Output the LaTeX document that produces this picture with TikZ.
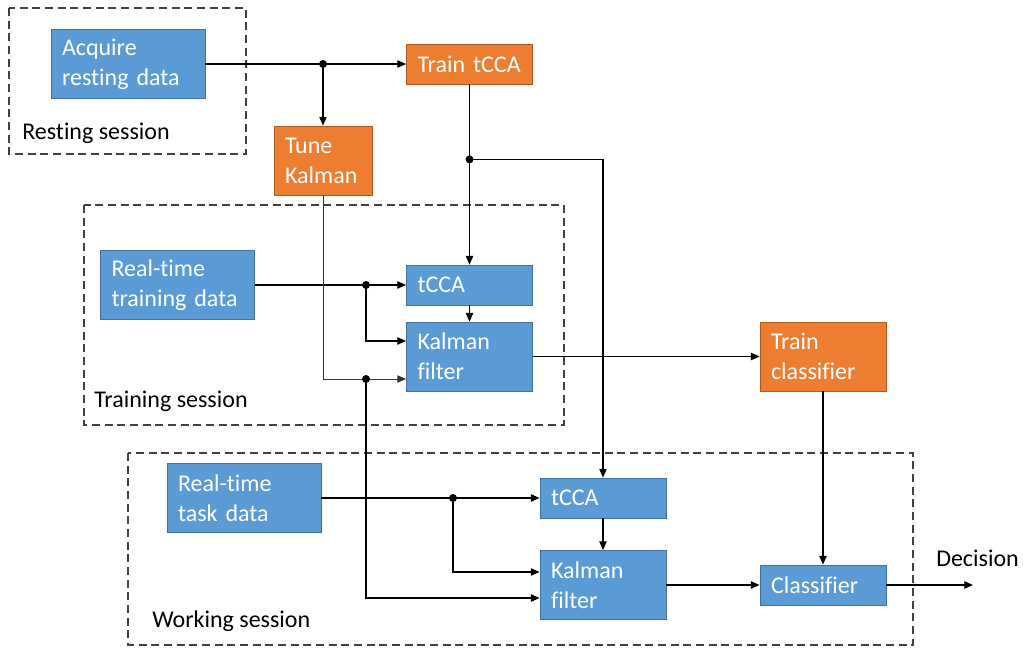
\documentclass[tikz,border=0pt]{standalone}
\usepackage{fontspec}
\setmainfont{Carlito}[Ligatures=NoCommon]
\usetikzlibrary{arrows.meta,calc}
\definecolor{bfill}{HTML}{5B9BD5}
\definecolor{bdraw}{HTML}{41719C}
\definecolor{ofill}{HTML}{ED7D31}
\definecolor{odraw}{HTML}{AE5A21}
\definecolor{dash}{HTML}{404040}
\begin{document}
\begin{tikzpicture}[x=0.75pt,y=-0.75pt,
  font=\fontsize{18pt}{22.5pt}\selectfont,
  box/.style={rectangle,text=white,align=left,inner xsep=8.25pt,inner ysep=0pt,line width=0.6pt},
  bluebox/.style={box,fill=bfill,draw=bdraw},
  orangebox/.style={box,fill=ofill,draw=odraw},
  wide/.style={text width=99pt},
  std/.style={text width=78pt},
  narrow/.style={text width=57pt},
  short/.style={minimum height=30pt},
  tall/.style={minimum height=51.75pt},
  session/.style={draw=dash,line width=1pt,dash pattern=on 6pt off 3.5pt},
  lbl/.style={text=black,anchor=west,inner sep=0pt},
  arr/.style={draw=black,line width=0.8pt,-{Triangle[length=6.5pt,width=5.5pt]}},
  thinarr/.style={draw=black!80,line width=0.5pt,-{Triangle[length=6.5pt,width=5.5pt]}},
  dot/.style={circle,fill=black,inner sep=0pt,minimum size=6pt}
]
\useasboundingbox (0,0) rectangle (1023,647);

% sessions
\draw[session] (9,8) rectangle (246,154);
\draw[session] (84,205) rectangle (564,425);
\draw[session] (128,453) rectangle (913,645);
\node[lbl] (lrest) at (22,133) {Resting session};
\node[lbl] (ltrain) at (94,401) {Training session};
\node[lbl] (lwork) at (152,621) {Working session};

% boxes
\node[bluebox,wide,tall] (A) at (128,64) {Acquire\\resting data};
\node[orangebox,std,short] (TT) at (469.5,64) {Train tCCA};
\node[orangebox,narrow,tall] (TK) at (323,160.5) {Tune\\Kalman};
\node[bluebox,wide,tall] (RT) at (177.5,285) {Real-time\\training data};
\node[bluebox,std,short] (C1) at (469.5,285) {tCCA};
\node[bluebox,std,tall] (K1) at (469.5,356.5) {Kalman\\filter};
\node[orangebox,std,tall] (TC) at (823,356.5) {Train\\classifier};
\node[bluebox,wide,tall] (RW) at (244,498) {Real-time\\task data};
\node[bluebox,std,short] (C2) at (603,498) {tCCA};
\node[bluebox,std,tall] (K2) at (603,585) {Kalman\\filter};
\node[bluebox,std,short] (CL) at (823,585) {Classifier};
\node[lbl] (dec) at (936,558) {Decision};

% junctions
\coordinate (j1) at (TK.north |- TT.west);
\coordinate (j2) at ($(TT.south)+(0,75)$);
\coordinate (j3) at (366,285);
\coordinate (k1b) at ($(K1.west)+(0,22.5)$);
\coordinate (j4) at (j3 |- k1b);
\coordinate (j5) at (453,498);
\coordinate (out) at (973,585);

% connectors
\draw[arr] (A) -- (TT);
\draw[arr] (j1) -- (TK);
\draw[arr] (TT) -- (C1);
\draw[arr] (j2) -| (C2.north);
\draw[arr] (RT) -- (C1);
\draw[arr] (j3) |- ($(K1.west)+(0,-15.5)$);
\draw[arr] (C1) -- (K1);
\draw[thinarr] (TK.south) |- (k1b);
\draw[arr] (j4) |- ($(K2.west)+(0,13)$);
\draw[arr] (K1) -- (TC);
\draw[arr] (TC) -- (CL);
\draw[arr] (RW) -- (C2);
\draw[arr] (j5) |- ($(K2.west)+(0,-13)$);
\draw[arr] (C2) -- (K2);
\draw[arr] (K2) -- (CL);
\draw[arr] (CL) -- (out);

\foreach \j in {j1,j2,j3,j4,j5} \node[dot] at (\j) {};
\end{tikzpicture}
\end{document}
